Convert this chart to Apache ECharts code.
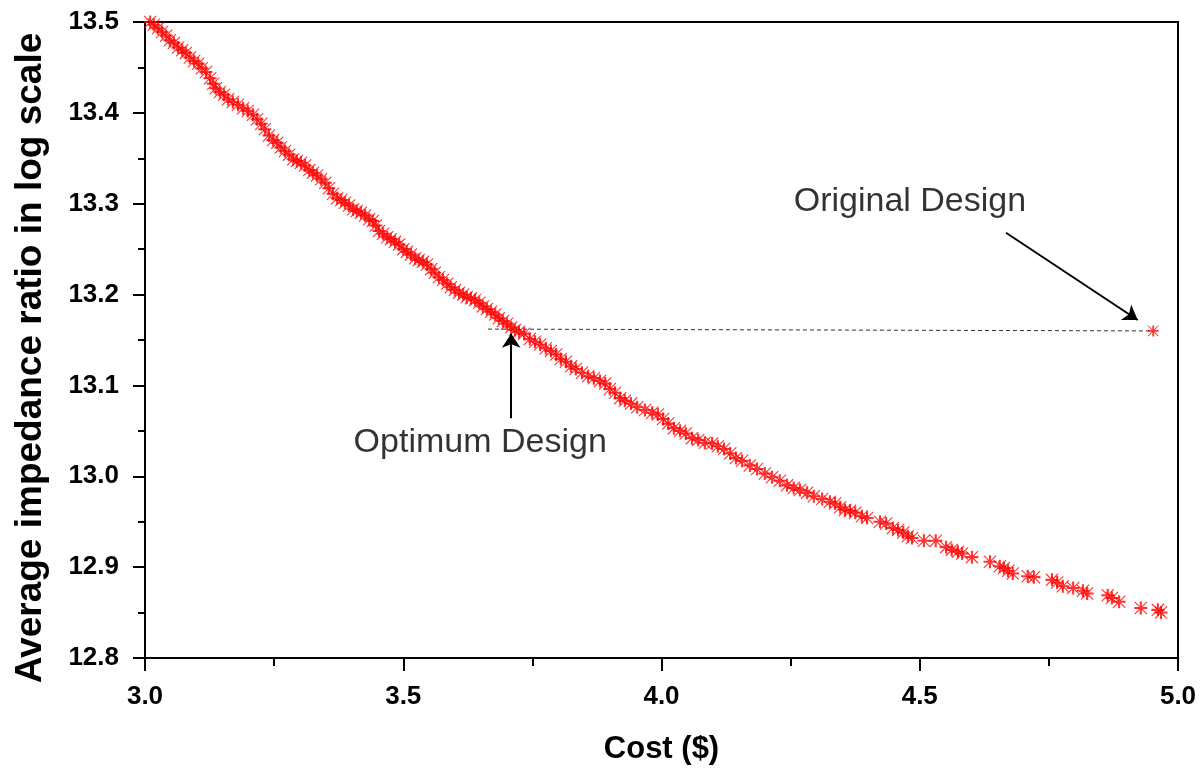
<!DOCTYPE html>
<html>
<head>
<meta charset="utf-8">
<script src="https://cdn.jsdelivr.net/npm/echarts@6/dist/echarts.min.js"></script>
<style>
  html, body { margin: 0; padding: 0; background: #fff; }
  #main { width: 1200px; height: 770px; }
</style>
</head>
<body>
<div id="main"></div>
<script>
// Pareto front: cost ($) vs average impedance ratio (log scale)
var cost = [
  3.010, 3.017, 3.025, 3.033, 3.041, 3.048, 3.056, 3.064, 3.072, 3.079,
  3.087, 3.095, 3.103, 3.110, 3.118, 3.126, 3.132, 3.137, 3.145, 3.153,
  3.161, 3.170, 3.180, 3.190, 3.199, 3.209, 3.217, 3.225, 3.232, 3.240,
  3.248, 3.256, 3.263, 3.271, 3.279, 3.287, 3.294, 3.302, 3.310, 3.318,
  3.325, 3.333, 3.341, 3.349, 3.356, 3.364, 3.372, 3.380, 3.387, 3.395,
  3.403, 3.410, 3.418, 3.426, 3.434, 3.441, 3.447, 3.453, 3.461, 3.469,
  3.476, 3.484, 3.492, 3.500, 3.507, 3.515, 3.523, 3.530, 3.538, 3.546,
  3.554, 3.561, 3.569, 3.577, 3.585, 3.592, 3.600, 3.608, 3.616, 3.623,
  3.631, 3.639, 3.647, 3.654, 3.662, 3.670, 3.678, 3.685, 3.693, 3.701,
  3.709, 3.716, 3.724, 3.734, 3.745, 3.755, 3.765, 3.776, 3.786, 3.796,
  3.805, 3.815, 3.825, 3.834, 3.846, 3.858, 3.869, 3.881, 3.891, 3.900,
  3.910, 3.920, 3.929, 3.941, 3.953, 3.968, 3.982, 3.993, 4.003, 4.013,
  4.024, 4.036, 4.047, 4.059, 4.071, 4.084, 4.098, 4.109, 4.121, 4.133,
  4.144, 4.156, 4.171, 4.185, 4.200, 4.214, 4.229, 4.243, 4.256, 4.268,
  4.282, 4.295, 4.311, 4.326, 4.336, 4.346, 4.355, 4.365, 4.375, 4.388,
  4.398, 4.423, 4.435, 4.448, 4.458, 4.468, 4.477, 4.485, 4.508, 4.531,
  4.551, 4.562, 4.574, 4.582, 4.601, 4.636, 4.655, 4.663, 4.671, 4.680,
  4.709, 4.721, 4.756, 4.766, 4.777, 4.797, 4.816, 4.824, 4.864, 4.872,
  4.886, 4.928, 4.961, 4.967
];
var impedance = [
  13.500, 13.497, 13.493, 13.489, 13.485, 13.480, 13.477, 13.472, 13.469, 13.466,
  13.461, 13.457, 13.454, 13.449, 13.445, 13.438, 13.432, 13.427, 13.423, 13.420,
  13.415, 13.412, 13.409, 13.405, 13.402, 13.398, 13.393, 13.388, 13.382, 13.375,
  13.370, 13.367, 13.362, 13.358, 13.354, 13.349, 13.347, 13.345, 13.342, 13.337,
  13.334, 13.331, 13.327, 13.323, 13.317, 13.311, 13.306, 13.304, 13.301, 13.298,
  13.294, 13.292, 13.290, 13.287, 13.283, 13.281, 13.276, 13.270, 13.267, 13.263,
  13.261, 13.258, 13.255, 13.250, 13.247, 13.244, 13.240, 13.238, 13.236, 13.233,
  13.228, 13.224, 13.219, 13.216, 13.212, 13.208, 13.205, 13.202, 13.200, 13.197,
  13.196, 13.194, 13.191, 13.187, 13.184, 13.181, 13.178, 13.174, 13.171, 13.168,
  13.164, 13.161, 13.159, 13.157, 13.151, 13.148, 13.145, 13.141, 13.138, 13.134,
  13.129, 13.126, 13.121, 13.118, 13.114, 13.110, 13.108, 13.105, 13.102, 13.096,
  13.092, 13.086, 13.083, 13.080, 13.076, 13.073, 13.070, 13.068, 13.063, 13.058,
  13.053, 13.050, 13.047, 13.042, 13.040, 13.037, 13.036, 13.033, 13.030, 13.025,
  13.020, 13.017, 13.012, 13.008, 13.003, 12.999, 12.995, 12.990, 12.987, 12.985,
  12.982, 12.978, 12.975, 12.972, 12.970, 12.966, 12.963, 12.962, 12.960, 12.956,
  12.954, 12.950, 12.948, 12.943, 12.941, 12.938, 12.934, 12.932, 12.929, 12.929,
  12.922, 12.919, 12.917, 12.915, 12.911, 12.906, 12.901, 12.899, 12.896, 12.893,
  12.890, 12.889, 12.886, 12.883, 12.879, 12.877, 12.874, 12.871, 12.869, 12.866,
  12.862, 12.855, 12.853, 12.850
];

var originalDesign = [4.952, 13.160];
var dashedGuide = [[3.664, 13.162], [4.945, 13.160]];

// annotation text and arrows (data coords)
var noteNames = ['Original Design', 'Optimum Design'];
var notePos = [[4.481, 13.302], [3.649, 13.037]];
var arrowFrom = [[4.667, 13.268], [3.709, 13.064]];
var arrowTo = [[4.922, 13.172], [3.709, 13.157]];

var xTicks = [3.0, 3.5, 4.0, 4.5, 5.0];
var yTicks = [12.8, 12.9, 13.0, 13.1, 13.2, 13.3, 13.4, 13.5];

// asterisk marker (8 spokes)
var starPath = 'path://M42,0L58,0L58,100L42,100Z M0,42L100,42L100,58L0,58Z M6,0L100,94L94,100L0,6Z M94,0L100,6L6,100L0,94Z';

var points = [];
for (var i = 0; i < cost.length; i++) {
  points.push([cost[i], impedance[i]]);
}
var notes = [];
var arrows = [];
for (var j = 0; j < noteNames.length; j++) {
  notes.push({ name: noteNames[j], value: notePos[j] });
  arrows.push({ coords: [arrowFrom[j], arrowTo[j]] });
}

var font = 'Arial, "Liberation Sans", Helvetica, sans-serif';

var chartDom = document.getElementById('main');
var myChart = echarts.init(chartDom, null, { renderer: 'canvas' });
var option = {
  animation: false,
  backgroundColor: '#fff',
  grid: {
    left: 145,
    right: 22,
    top: 22,
    bottom: 112,
    show: true,
    borderColor: '#000',
    borderWidth: 2,
    backgroundColor: 'transparent'
  },
  xAxis: {
    type: 'value',
    min: xTicks[0],
    max: xTicks[xTicks.length - 1],
    interval: 0.5,
    name: 'Cost ($)',
    nameLocation: 'middle',
    nameGap: 76,
    nameTextStyle: { fontFamily: font, fontWeight: 'bold', fontSize: 31, color: '#000' },
    axisLine: { lineStyle: { color: '#000', width: 2 } },
    axisTick: { length: 13, lineStyle: { color: '#000', width: 2 } },
    minorTick: { show: true, splitNumber: 2, length: 8, lineStyle: { color: '#000', width: 2 } },
    splitLine: { show: false },
    axisLabel: {
      margin: 26,
      fontFamily: font,
      fontWeight: 'bold',
      fontSize: 26,
      color: '#000',
      formatter: function (v) { return v.toFixed(1); }
    }
  },
  yAxis: {
    type: 'value',
    min: yTicks[0],
    max: yTicks[yTicks.length - 1],
    interval: 0.1,
    name: 'Average impedance ratio in log scale',
    nameLocation: 'middle',
    nameGap: 96,
    nameTextStyle: {
      fontFamily: font,
      fontWeight: 'bold',
      fontSize: 37,
      color: '#000',
      padding: [0, 36, 0, 0]
    },
    axisLine: { lineStyle: { color: '#000', width: 2 } },
    axisTick: { length: 12, lineStyle: { color: '#000', width: 2 } },
    minorTick: { show: true, splitNumber: 2, length: 7, lineStyle: { color: '#000', width: 2 } },
    splitLine: { show: false },
    axisLabel: {
      margin: 26,
      fontFamily: font,
      fontWeight: 'bold',
      fontSize: 26,
      color: '#000',
      formatter: function (v) { return v.toFixed(1); }
    }
  },
  series: [
    {
      name: 'guide',
      type: 'line',
      data: dashedGuide,
      showSymbol: false,
      symbol: 'none',
      z: 1,
      lineStyle: { color: '#333', width: 1, type: [4, 3] }
    },
    {
      name: 'pareto',
      type: 'scatter',
      data: points,
      symbol: starPath,
      symbolSize: 13,
      z: 3,
      itemStyle: { color: '#ff0000' }
    },
    {
      name: 'original',
      type: 'scatter',
      data: [originalDesign],
      symbol: starPath,
      symbolSize: 11,
      z: 3,
      itemStyle: { color: '#ff0000' }
    },
    {
      name: 'arrows',
      type: 'lines',
      coordinateSystem: 'cartesian2d',
      data: arrows,
      symbol: ['none', 'arrow'],
      symbolSize: [10, 14],
      z: 4,
      lineStyle: { color: '#000', width: 2, opacity: 1 }
    },
    {
      name: 'notes',
      type: 'scatter',
      data: notes,
      symbolSize: 0,
      z: 5,
      label: {
        show: true,
        position: 'inside',
        formatter: '{b}',
        fontFamily: font,
        fontSize: 34,
        color: '#000'
      }
    }
  ]
};
option && myChart.setOption(option);
</script>
</body>
</html>
